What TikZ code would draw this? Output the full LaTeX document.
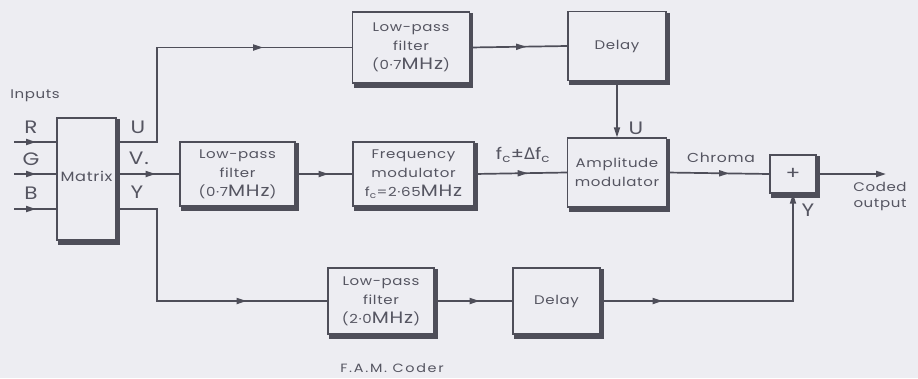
\documentclass[tikz,border=0pt]{standalone}
\usepackage{fontspec}
\setmainfont{Poppins}[FakeStretch=1.2, LetterSpace=5]
\newfontfamily\widefont{Poppins}[FakeStretch=1.2, LetterSpace=14]
\newfontfamily\dvs{DejaVu Sans}
\usetikzlibrary{arrows.meta,decorations.markings}
\definecolor{bg}{HTML}{EDEDF2}
\definecolor{ink}{HTML}{4E4E59}
\definecolor{txt}{HTML}{555561}
\tikzset{
  arr/.tip={Triangle[length=10pt,width=6pt]},
  box/.style={draw=ink, line width=1.4pt, fill=bg, align=center, inner sep=0pt, text=txt,
    font=\fontsize{12.5}{19}\selectfont},
  shadowfill/.style={fill=ink},
  conn/.style={draw=ink, line width=1.7pt},
  midarr/.style={postaction={decorate}, decoration={markings, mark=at position #1 with {\arrow[ink]{arr}}}},
  lbl/.style={text=txt, font=\fontsize{12.5}{16}\selectfont, inner sep=0pt, align=center},
  big/.style={text=txt, font=\fontsize{18}{18}\selectfont, inner sep=0pt}
}
\newcommand{\bigMHz}{{\fontsize{16.5}{16}\selectfont MHz}}
\newcommand{\boxshadow}[1]{%
  \fill[shadowfill] ([xshift=2pt]#1.south west) rectangle ([xshift=3pt,yshift=-4pt]#1.south east);
  \fill[shadowfill] ([yshift=-2pt]#1.north east) rectangle ([xshift=3pt,yshift=-4pt]#1.south east);}
\begin{document}
\begin{tikzpicture}[x=1pt,y=-1pt]
\fill[bg] (0,0) rectangle (918,378);
\useasboundingbox (0,0) rectangle (918,378);

% boxes
\node[box, minimum width=59pt, minimum height=122pt, font=\fontsize{13.5}{16}\selectfont] (mx) at (86.5,179) {\raisebox{6pt}{Matrix}};
\node[box, minimum width=117pt, minimum height=71pt] (lpf1) at (411,47.5) {Low-pass\\filter\\(0·7\bigMHz)};
\node[box, minimum width=98pt, minimum height=69pt] (dl1) at (617,46) {Delay};
\node[box, minimum width=115pt, minimum height=64pt] (lpf2) at (237.5,174) {Low-pass\\filter\\(0·7\bigMHz)};
\node[box, minimum width=121pt, minimum height=64pt] (fm) at (413.5,174) {Frequency\\modulator\\f\textsubscript{c}=2·65\bigMHz};
\node[box, minimum width=99pt, minimum height=69pt] (am) at (617,172.5) {Amplitude\\modulator};
\node[box, minimum width=46pt, minimum height=38pt, font=\fontsize{18}{18}\selectfont] (pl) at (793,174) {+};
\node[box, minimum width=106pt, minimum height=66pt] (lpf3) at (381,301) {Low-pass\\filter\\(2·0\bigMHz)};
\node[box, minimum width=87pt, minimum height=66pt] (dl2) at (556.5,301) {Delay};

% shadows
\boxshadow{mx}
\boxshadow{lpf1}
\boxshadow{dl1}
\boxshadow{lpf2}
\boxshadow{fm}
\boxshadow{am}
\boxshadow{pl}
\boxshadow{lpf3}
\boxshadow{dl2}

% coordinates
\coordinate (inR) at (14,142);
\coordinate (inG) at (14,174);
\coordinate (inB) at (14,209);
\coordinate (bendU) at (157,142);
\coordinate (bendY) at (157,209);
\coordinate (out) at (886,174);

% inputs
\draw[conn, midarr=22pt] (inR) -- (inR -| mx.west);
\draw[conn, midarr=22pt] (inG) -- (inG -| mx.west);
\draw[conn, midarr=22pt] (inB) -- (inB -| mx.west);

% matrix outputs
\draw[conn, midarr=241pt] (bendU -| mx.east) -- (bendU) |- (lpf1.west);
\draw[conn, midarr=39pt] (inG -| mx.east) -- (lpf2.west);
\draw[conn, midarr=222pt] (bendY -| mx.east) -- (bendY) |- (lpf3.west);

% chains
\draw[conn, midarr=56pt] (lpf1.east) -- (dl1.west);
\draw[conn, -{arr}] (dl1.south) -- (am.north);
\draw[conn, midarr=33pt] (lpf2.east) -- (fm.west);
\draw[conn, midarr=53pt] (fm.east) -- (am.west);
\draw[conn, midarr=62pt] (am.east) -- (pl.west);
\draw[conn, -{arr}] (pl.east) -- (out);
\draw[conn, midarr=45pt] (lpf3.east) -- (dl2.west);
\draw[conn, midarr=62pt, -{arr}] (dl2.east) -| (pl.south);

% labels
\node[lbl] (inputs) at (35,96) {Inputs};
\node[big] (lR) at (31,127) {R};
\node[big] (lG) at (31,159) {G};
\node[big] (lB) at (31,193) {B};
\node[big] (lU) at (138,127) {U};
\node[big] (lV) at (139,158) {V.};
\node[big] (lY) at (137,192) {Y};
\node[big, font=\fontsize{16}{16}\selectfont] (lfc) at (523,155) {f\textsubscript{c}±{\dvs Δ}f\textsubscript{c}};
\node[lbl, font=\fontsize{13}{16}\selectfont] (lch) at (721,158) {Chroma};
\node[big] (lU2) at (636,128) {U};
\node[big] (lY2) at (808,210) {Y};
\node[lbl] (lco) at (880,196) {Coded\\output};
\node[lbl, font=\widefont\fontsize{12}{16}\selectfont] (cap) at (392,368) {F.A.M. Coder};
\end{tikzpicture}
\end{document}
